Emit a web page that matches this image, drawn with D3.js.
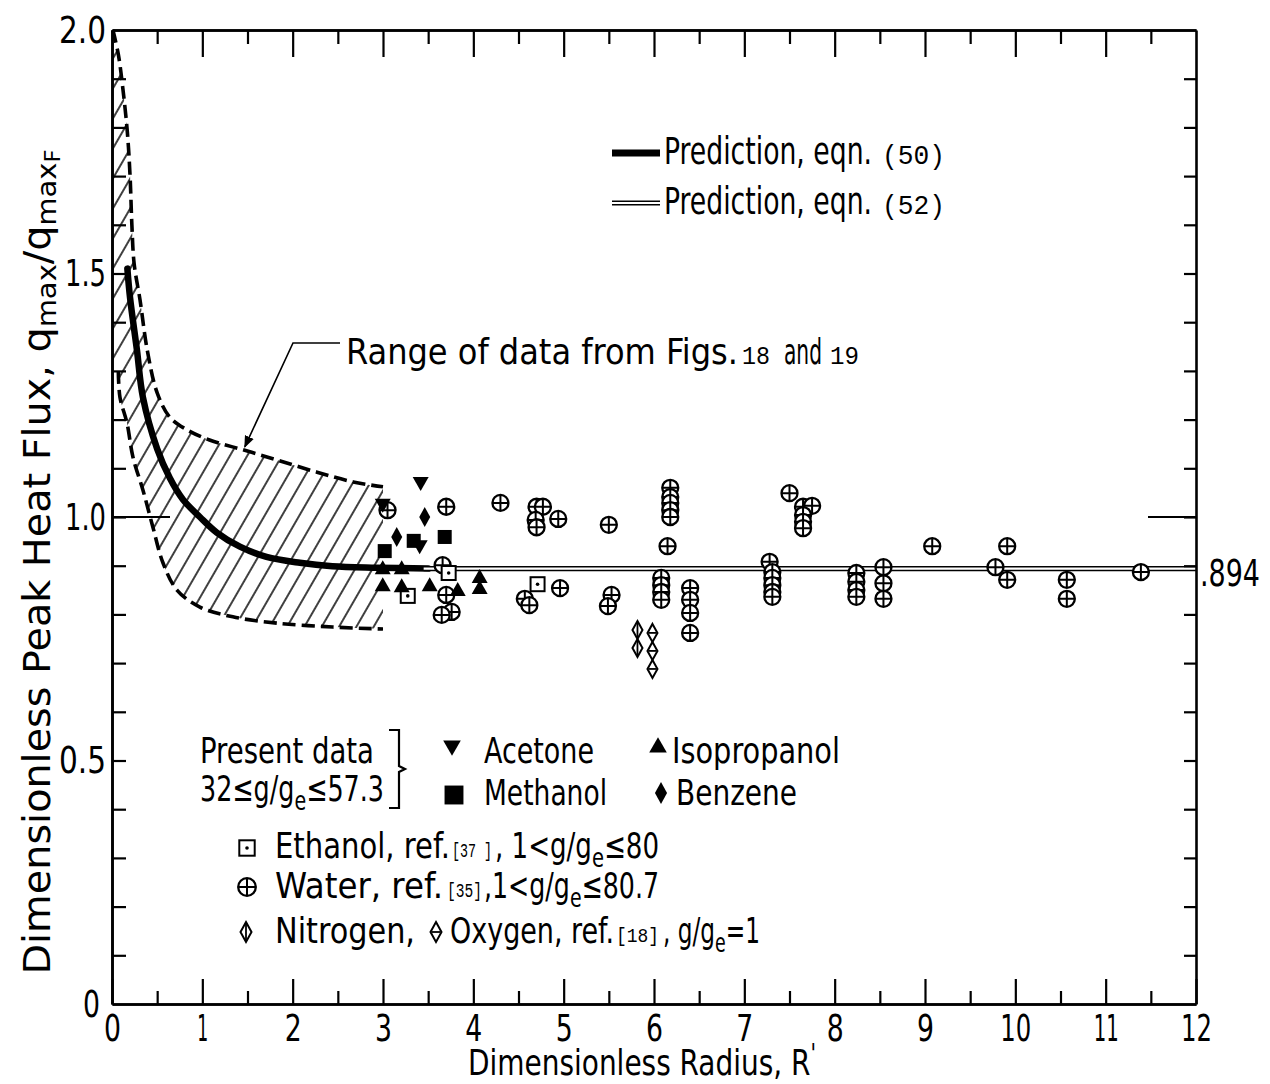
<!DOCTYPE html>
<html lang="en">
<head>
<meta charset="UTF-8">
<title>Peak heat flux vs dimensionless radius</title>
<style>
    body { margin: 0; background: #fff; }
    svg { display: block; }
    text { font-family: "Liberation Sans Narrow", "DejaVu Sans Condensed", "Liberation Sans", Arial, sans-serif; fill: #000; }
    .mono { font-family: "Liberation Mono", "DejaVu Sans Mono", monospace; }
    .axis .domain { stroke: #000; stroke-width: 2.6; }
    .axis line { stroke: #000; stroke-width: 2.2; }
</style>
</head>
<body>
<svg id="chart" width="1270" height="1084"></svg>
<script src="https://cdnjs.cloudflare.com/ajax/libs/d3/7.8.5/d3.min.js"></script>
<script>
// ---- data (R', qmax/qmaxF) ----
var eqn50 = [[0.17,1.51],[0.20,1.45],[0.276,1.343],[0.343,1.245],[0.50,1.140],[0.64,1.080],
    [0.785,1.036],[0.973,1.000],[1.16,0.968],[1.416,0.939],[1.71,0.918],[2.08,0.906],
    [2.44,0.899],[2.93,0.896],[3.5,0.894]];
var eqn52 = [[3.45,0.894],[12,0.894]];
var rangeUpper = [[0.01,2.0],[0.07,1.95],[0.12,1.88],[0.17,1.79],[0.20,1.70],[0.22,1.60],[0.245,1.52],
    [0.31,1.446],[0.39,1.343],[0.50,1.255],[0.64,1.205],[0.83,1.179],[1.08,1.158],[1.45,1.138],
    [1.83,1.117],[2.27,1.092],[2.67,1.072],[3.0,1.062]];
var rangeLower = [[0.07,1.30],[0.088,1.246],[0.166,1.193],[0.232,1.123],[0.343,1.055],[0.453,0.979],
    [0.564,0.906],[0.719,0.850],[0.973,0.815],[1.338,0.795],[1.825,0.782],[2.444,0.774],[3.0,0.770]];

var acetone = [[2.997,1.025],[3.417,1.070],[3.406,0.940]];
var methanol = [[3.019,0.930],[3.340,0.951],[3.683,0.959]];
var benzene = [[3.152,0.959],[3.462,1.000]];
var isopropanol = [[2.997,0.895],[3.207,0.895],[2.997,0.860],[3.207,0.858],[3.517,0.860],
    [3.827,0.850],[4.070,0.877],[4.070,0.854]];
var ethanol = [[3.274,0.838],[3.727,0.885],[4.711,0.862]];
var water = [[3.05,1.014],[3.70,1.021],[3.66,0.901],[3.70,0.840],[3.76,0.805],[3.65,0.799],
    [4.30,1.029],[4.70,1.021],[4.77,1.021],[4.69,0.994],[4.70,0.979],[4.94,0.996],[5.50,0.984],
    [6.18,1.060],[6.18,1.041],[6.18,1.029],[6.18,1.014],[6.18,1.000],[6.15,0.940],
    [4.96,0.854],[4.57,0.832],[4.62,0.819],[5.53,0.840],[5.49,0.817],
    [6.08,0.875],[6.08,0.860],[6.08,0.846],[6.08,0.830],
    [6.40,0.854],[6.40,0.830],[6.40,0.803],[6.40,0.762],
    [7.50,1.049],[7.65,1.021],[7.75,1.023],[7.65,1.004],[7.65,0.990],[7.65,0.977],
    [7.28,0.908],[7.31,0.887],[7.31,0.875],[7.31,0.860],[7.31,0.846],[7.31,0.836],
    [8.24,0.885],[8.24,0.867],[8.24,0.850],[8.24,0.836],
    [8.54,0.897],[8.54,0.864],[8.54,0.832],
    [9.08,0.940],[9.91,0.940],[9.78,0.897],[9.91,0.871],
    [10.57,0.871],[10.57,0.832],[11.39,0.887]];
var nitrogen = [[5.817,0.768],[5.817,0.731]];
var oxygen = [[5.983,0.762],[5.983,0.725],[5.983,0.688]];

var xMajor = d3.range(0, 13);
var xMinor = d3.range(0.5, 12, 1);
var yLabels = [0, 0.5, 1.0, 1.5, 2.0];
var yTicks = d3.range(1, 20).map(function(i) { return i / 10; });

// ---- scales ----
var svg = d3.select("#chart");
var x = d3.scaleLinear().domain([0, 12]).range([112, 1196]);
var y = d3.scaleLinear().domain([0, 2]).range([1004, 30]);

function fit(sel, w) { return sel.attr("textLength", w).attr("lengthAdjust", "spacingAndGlyphs"); }
function labelWidth(s) {
    var w = 0;
    s.split("").forEach(function(c, i) { w += (c === "1" ? 11 : c === "." ? 7 : 17) + (i ? 3 : 0); });
    return w;
}

var defs = svg.append("defs");
defs.append("pattern").attr("id", "hatch")
    .attr("patternUnits", "userSpaceOnUse").attr("width", 15).attr("height", 15)
    .attr("patternTransform", "rotate(30)")
  .append("line").attr("x1", 7).attr("x2", 7).attr("y1", -1).attr("y2", 16)
    .attr("stroke", "#000").attr("stroke-width", 1.5);
defs.append("marker").attr("id", "arrow").attr("viewBox", "0 0 10 10")
    .attr("refX", 9).attr("refY", 5).attr("markerWidth", 12).attr("markerHeight", 12)
    .attr("markerUnits", "userSpaceOnUse").attr("orient", "auto")
  .append("path").attr("d", "M0,1 L10,5 L0,9 Z").attr("fill", "#000");

// ---- hatched range band ----
var lineCR = d3.line().x(function(d) { return x(d[0]); }).y(function(d) { return y(d[1]); })
    .curve(d3.curveCatmullRom.alpha(0.5));
var bandPath = lineCR(rangeUpper) + "L" + lineCR(rangeLower.slice().reverse()).slice(1)
    + "L" + x(0) + "," + y(1.30) + "L" + x(0) + "," + y(2) + "Z";
svg.append("path").attr("d", bandPath).attr("fill", "url(#hatch)").attr("stroke", "none");
[rangeUpper, rangeLower].forEach(function(arr) {
    svg.append("path").attr("d", lineCR(arr)).attr("fill", "none")
        .attr("stroke", "#000").attr("stroke-width", 3.6).attr("stroke-dasharray", "13,6");
});

// ---- prediction curves ----
svg.append("path").attr("d", lineCR(eqn50)).attr("fill", "none")
    .attr("stroke", "#000").attr("stroke-width", 6.5).attr("stroke-linecap", "round");
var flat = d3.line().x(function(d) { return x(d[0]); }).y(function(d) { return y(d[1]); });
svg.append("path").attr("d", flat(eqn52)).attr("stroke", "#000").attr("stroke-width", 5.2).attr("fill", "none");
svg.append("path").attr("d", flat(eqn52)).attr("stroke", "#fff").attr("stroke-width", 2.2).attr("fill", "none");

// ---- axes (frame with inward ticks) ----
function axis(gen, transform) {
    return svg.append("g").attr("class", "axis").attr("transform", transform).call(gen);
}
var bx = axis(d3.axisBottom(x).tickValues(xMajor).tickSize(-25).tickSizeOuter(0).tickPadding(10)
    .tickFormat(d3.format("d")), "translate(0,1004)");
axis(d3.axisBottom(x).tickValues(xMinor).tickSize(-13).tickSizeOuter(0).tickFormat(""), "translate(0,1004)");
axis(d3.axisTop(x).tickValues(d3.range(1, 12)).tickSize(-27).tickSizeOuter(0).tickFormat(""), "translate(0,30)");
axis(d3.axisTop(x).tickValues(xMinor).tickSize(-14).tickSizeOuter(0).tickFormat(""), "translate(0,30)");
axis(d3.axisLeft(y).tickValues(yTicks).tickSize(-14).tickSizeOuter(0).tickFormat(""), "translate(112,0)");
var ly = axis(d3.axisLeft(y).tickValues(yLabels).tickSize(0).tickSizeOuter(0).tickPadding(6)
    .tickFormat(function(d) { return d === 0 ? "0" : d.toFixed(1); }), "translate(112,0)");
axis(d3.axisRight(y).tickValues(yTicks).tickSize(-12).tickSizeOuter(0).tickFormat(""), "translate(1196,0)");

bx.selectAll("text").attr("font-size", 38).each(function(d) { fit(d3.select(this), labelWidth(String(d))); });
ly.selectAll("text").attr("font-size", 38).each(function(d) {
    var t = d3.select(this);
    fit(t, labelWidth(t.text()));
    if (d === 0) t.attr("x", -12);
});
svg.selectAll(".axis text").attr("fill", "#000").attr("font-family", null);

// long reference ticks at 1.0
svg.append("line").attr("x1", x(0)).attr("x2", x(0) + 58).attr("y1", y(1)).attr("y2", y(1))
    .attr("stroke", "#000").attr("stroke-width", 2);
svg.append("line").attr("x1", x(12) - 48).attr("x2", x(12)).attr("y1", y(1)).attr("y2", y(1))
    .attr("stroke", "#000").attr("stroke-width", 2);
fit(svg.append("text").attr("x", x(12) + 4).attr("y", y(0.894) + 17).attr("font-size", 38).text(".894"), 60);

// ---- symbols ----
function drawSymbol(g, type, k) {
    k = k || 1;
    if (type === "down") {
        g.append("path").attr("d", "M" + (-8*k) + "," + (-6*k) + "L" + (8*k) + "," + (-6*k) + "L0," + (8*k) + "Z");
    } else if (type === "up") {
        g.append("path").attr("d", "M" + (-8*k) + "," + (6*k) + "L" + (8*k) + "," + (6*k) + "L0," + (-8*k) + "Z");
    } else if (type === "square") {
        g.append("rect").attr("x", -7*k).attr("y", -7*k).attr("width", 14*k).attr("height", 14*k);
    } else if (type === "diamond") {
        g.append("path").attr("d", "M0," + (-10*k) + "L" + (5.5*k) + ",0L0," + (10*k) + "L" + (-5.5*k) + ",0Z");
    } else if (type === "water") {
        g.append("circle").attr("r", 8*k).attr("fill", "#fff").attr("stroke", "#000").attr("stroke-width", 2.3);
        g.append("path").attr("d", "M" + (-8*k) + ",0H" + (8*k) + "M0," + (-8*k) + "V" + (8*k))
            .attr("stroke", "#000").attr("stroke-width", 2);
    } else if (type === "ethanol") {
        g.append("rect").attr("x", -7*k).attr("y", -7*k).attr("width", 14*k).attr("height", 14*k)
            .attr("fill", "#fff").attr("stroke", "#000").attr("stroke-width", 2);
        g.append("circle").attr("r", 1.8);
    } else if (type === "nitrogen" || type === "oxygen") {
        g.append("path").attr("d", "M0," + (-9*k) + "L" + (5*k) + ",0L0," + (9*k) + "L" + (-5*k) + ",0Z")
            .attr("fill", "#fff").attr("stroke", "#000").attr("stroke-width", 2);
        g.append("path").attr("d", type === "nitrogen" ? "M0," + (-8*k) + "V" + (8*k) : "M" + (-4*k) + ",0H" + (4*k))
            .attr("stroke", "#000").attr("stroke-width", 1.8);
    }
}

function plot(data, type) {
    svg.append("g").selectAll("g").data(data).join("g")
        .attr("transform", function(d) { return "translate(" + x(d[0]) + "," + y(d[1]) + ")"; })
        .each(function() { drawSymbol(d3.select(this), type); });
}
plot(water, "water");
plot(ethanol, "ethanol");
plot(nitrogen, "nitrogen");
plot(oxygen, "oxygen");
plot(isopropanol, "up");
plot(methanol, "square");
plot(benzene, "diamond");
plot(acetone, "down");

// ---- annotation ----
svg.append("path").attr("d", "M340,343H293L" + x(1.47) + "," + (y(1.14) - 2))
    .attr("fill", "none").attr("stroke", "#000").attr("stroke-width", 1.6).attr("marker-end", "url(#arrow)");
fit(svg.append("text").attr("x", 346).attr("y", 364).attr("font-size", 36).text("Range of data from Figs."), 392);
fit(svg.append("text").attr("class", "mono").attr("x", 742).attr("y", 364).attr("font-size", 25).text("18"), 28);
fit(svg.append("text").attr("x", 784).attr("y", 364).attr("font-size", 36).text("and"), 38);
fit(svg.append("text").attr("class", "mono").attr("x", 830).attr("y", 364).attr("font-size", 25).text("19"), 29);

// ---- prediction legend ----
svg.append("line").attr("x1", 612).attr("x2", 660).attr("y1", 153).attr("y2", 153)
    .attr("stroke", "#000").attr("stroke-width", 7);
svg.append("line").attr("x1", 612).attr("x2", 660).attr("y1", 203).attr("y2", 203)
    .attr("stroke", "#000").attr("stroke-width", 5.2);
svg.append("line").attr("x1", 612).attr("x2", 660).attr("y1", 203).attr("y2", 203)
    .attr("stroke", "#fff").attr("stroke-width", 2.2);
[["(50)", 164], ["(52)", 214]].forEach(function(p) {
    fit(svg.append("text").attr("x", 664).attr("y", p[1]).attr("font-size", 37).text("Prediction, eqn."), 208);
    fit(svg.append("text").attr("class", "mono").attr("x", 882).attr("y", p[1]).attr("font-size", 27).text(p[0]), 63);
});

// ---- data legend ----
function ge(t, pre, post) {
    t.append("tspan").text(pre);
    t.append("tspan").attr("font-size", 27).attr("dy", 9).text("e");
    t.append("tspan").attr("dy", -9).text(post);
    return t;
}
fit(svg.append("text").attr("x", 200).attr("y", 763).attr("font-size", 36).text("Present data"), 174);
fit(ge(svg.append("text").attr("x", 200).attr("y", 801).attr("font-size", 36), "32\u2264g/g", "\u226457.3"), 184);
svg.append("path").attr("d", "M389,730H399V766L405,769L399,772V808H389")
    .attr("fill", "none").attr("stroke", "#000").attr("stroke-width", 2.2);

var legendMarks = [["down", 452, 747], ["up", 658, 746], ["square", 454, 795], ["diamond", 661, 793],
    ["ethanol", 247, 848], ["water", 247, 887], ["nitrogen", 246, 932], ["oxygen", 436, 932]];
legendMarks.forEach(function(m) {
    drawSymbol(svg.append("g").attr("transform", "translate(" + m[1] + "," + m[2] + ")"), m[0], m[0] === "square" ? 1.35 : 1.1);
});
fit(svg.append("text").attr("x", 484).attr("y", 763).attr("font-size", 36).text("Acetone"), 110);
fit(svg.append("text").attr("x", 672).attr("y", 763).attr("font-size", 36).text("Isopropanol"), 168);
fit(svg.append("text").attr("x", 484).attr("y", 805).attr("font-size", 36).text("Methanol"), 123);
fit(svg.append("text").attr("x", 676).attr("y", 805).attr("font-size", 36).text("Benzene"), 121);

fit(svg.append("text").attr("x", 275).attr("y", 858).attr("font-size", 36).text("Ethanol, ref."), 175);
fit(svg.append("text").attr("class", "mono").attr("x", 452).attr("y", 857).attr("font-size", 21).text("[37 ]"), 40);
fit(ge(svg.append("text").attr("x", 495).attr("y", 858).attr("font-size", 36), ", 1<g/g", "\u226480"), 164);

fit(svg.append("text").attr("x", 275).attr("y", 898).attr("font-size", 36).text("Water, ref."), 168);
fit(svg.append("text").attr("class", "mono").attr("x", 447).attr("y", 897).attr("font-size", 21).text("[35]"), 35);
fit(ge(svg.append("text").attr("x", 484).attr("y", 898).attr("font-size", 36), ",1<g/g", "\u226480.7"), 175);

fit(svg.append("text").attr("x", 275).attr("y", 943).attr("font-size", 36).text("Nitrogen,"), 140);
fit(svg.append("text").attr("x", 450).attr("y", 943).attr("font-size", 36).text("Oxygen, ref."), 164);
fit(svg.append("text").attr("class", "mono").attr("x", 616).attr("y", 942).attr("font-size", 21).text("[18]"), 43);
fit(ge(svg.append("text").attr("x", 663).attr("y", 943).attr("font-size", 36), ", g/g", "=1"), 97);

// ---- axis titles ----
var xt = svg.append("text").attr("x", 642).attr("y", 1075).attr("font-size", 36).attr("text-anchor", "middle");
xt.append("tspan").text("Dimensionless Radius, R");
xt.append("tspan").attr("dy", -12).attr("font-size", 26).text("'");
fit(xt, 348);

var yt = svg.append("text").attr("transform", "translate(50,562) rotate(-90)")
    .attr("font-size", 37).attr("text-anchor", "middle");
yt.append("tspan").text("Dimensionless Peak Heat Flux, q");
yt.append("tspan").attr("font-size", 27).attr("dy", 6).text("max");
yt.append("tspan").attr("dy", -6).text("/q");
yt.append("tspan").attr("font-size", 27).attr("dy", 6).text("max");
yt.append("tspan").attr("font-size", 21).attr("dy", 4).text("F");
fit(yt, 825);
</script>
</body>
</html>
